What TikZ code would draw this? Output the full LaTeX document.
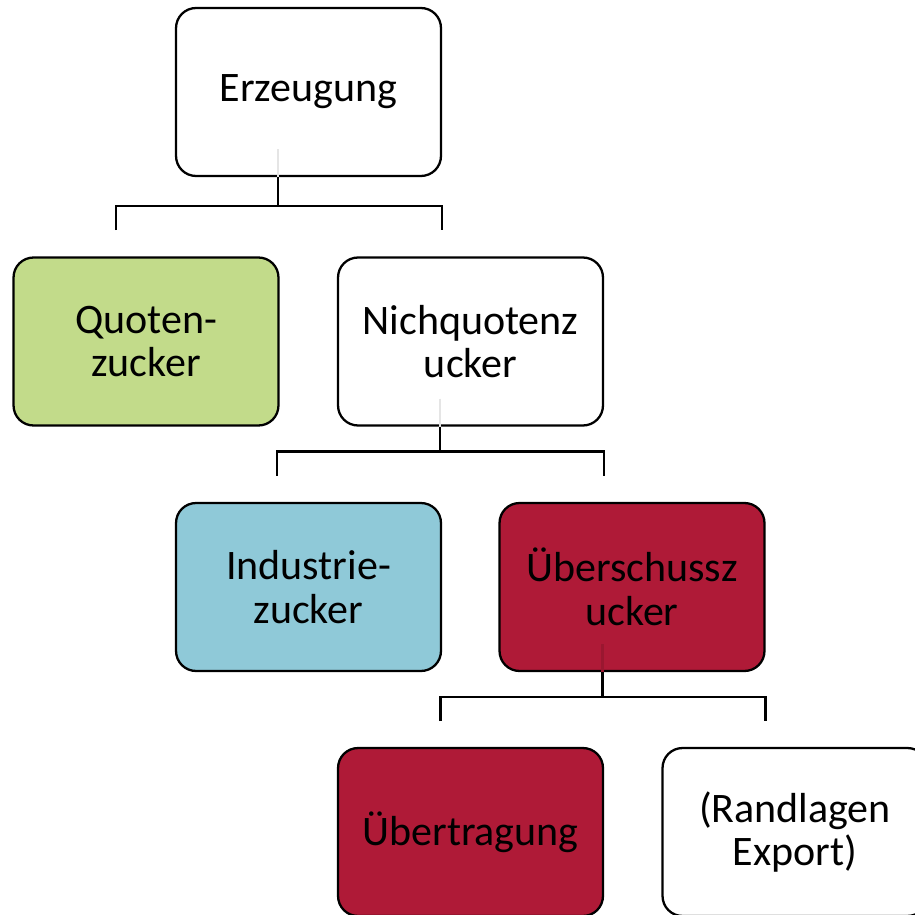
\documentclass[tikz,border=0pt]{standalone}
\usepackage{fontspec}
\setmainfont{Carlito}
\usetikzlibrary{calc}
\definecolor{qgreen}{HTML}{C2DB8A}
\definecolor{iblue}{HTML}{8FC9D8}
\definecolor{ured}{HTML}{AF1A37}
\tikzset{
  box/.style={draw=black, line width=1.3pt, rounded corners=0.4cm,
    minimum width=5.3cm, minimum height=3.36cm, align=center,
    fill=white, font=\fontsize{23.9}{24.8}\selectfont},
  conn/.style={draw=black, line width=1.3pt}
}
\begin{document}
\begin{tikzpicture}[x=0.02cm,y=-0.02cm]
\useasboundingbox (0,0) rectangle (915,915);
\clip (0,0) rectangle (915,915);
\node[box] (erz)  at (308.5,92)  {Erzeugung};
\node[box, fill=qgreen] (quo)  at (146,341.5)  {Quoten-\\zucker};
\node[box] (nich) at (470.5,341.5) {Nichquotenz\\ucker};
\node[box, fill=iblue] (ind)  at (308.5,587) {Industrie-\\zucker};
\node[box, fill=ured] (ueb)  at (632,587) {Überschussz\\ucker};
\node[box, fill=ured] (uet)  at (470.5,832) {Übertragung};
\node[box] (rand) at (795,832) {(Randlagen\\Export)};
% connector points
\coordinate (a0) at ($(erz.south west)+(103,-28)$);
\coordinate (aS) at ($(erz.south west)+(103,0)$);
\coordinate (a1) at ($(erz.south west)+(103,29)$);
\coordinate (aL) at ($(erz.south west)+(-59,29)$);
\coordinate (aR) at ($(erz.south east)+(0,29)$);
\coordinate (aLd) at ($(erz.south west)+(-59,53)$);
\coordinate (aRd) at ($(erz.south east)+(0,53)$);
\coordinate (b0) at ($(nich.south west)+(103,-28)$);
\coordinate (bS) at ($(nich.south west)+(103,0)$);
\coordinate (b1) at ($(nich.south west)+(103,25)$);
\coordinate (bL) at ($(nich.south west)+(-60,25)$);
\coordinate (bR) at ($(nich.south east)+(0,25)$);
\coordinate (bLd) at ($(nich.south west)+(-60,49)$);
\coordinate (bRd) at ($(nich.south east)+(0,49)$);
\coordinate (c0) at ($(ueb.south west)+(104,-28)$);
\coordinate (cS) at ($(ueb.south west)+(104,0)$);
\coordinate (c1) at ($(ueb.south west)+(104,25)$);
\coordinate (cL) at ($(ueb.south west)+(-58,25)$);
\coordinate (cR) at ($(ueb.south east)+(0,25)$);
\coordinate (cLd) at ($(ueb.south west)+(-58,49)$);
\coordinate (cRd) at ($(ueb.south east)+(0,49)$);
\draw[conn, draw=black!10!white] (a0) -- (aS);
\draw[conn] (aS) -- (a1);
\draw[conn] (aLd) -- (aL) -- (aR) -- (aRd);
\draw[conn, draw=black!10!white] (b0) -- (bS);
\draw[conn] (bS) -- (b1);
\draw[conn] (bLd) -- (bL) -- (bR) -- (bRd);
\draw[conn, draw=black!12!ured] (c0) -- (cS);
\draw[conn] (cS) -- (c1);
\draw[conn] (cLd) -- (cL) -- (cR) -- (cRd);
\end{tikzpicture}
\end{document}
